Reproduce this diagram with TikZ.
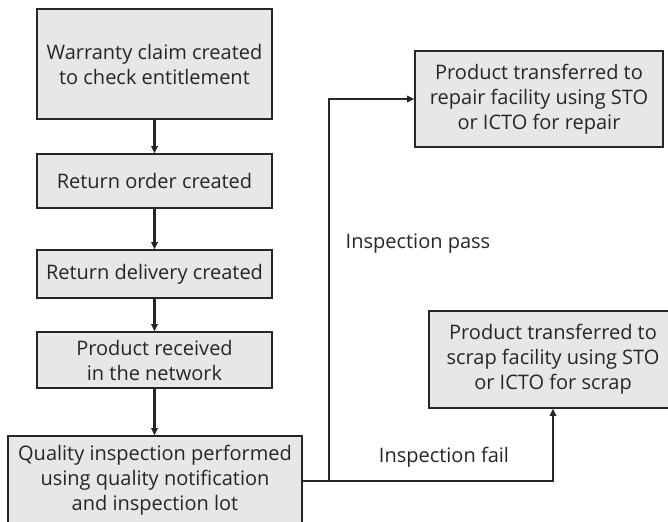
\documentclass[tikz,border=0pt]{standalone}
\usepackage{fontspec}
\setmainfont{Open Sans}
\usetikzlibrary{arrows.meta}
\definecolor{boxgray}{HTML}{E6E7E8}
\definecolor{linegray}{HTML}{262626}
\definecolor{textgray}{HTML}{262626}
\begin{document}
\begin{tikzpicture}[x=0.5pt,y=-0.5pt,
  box/.style={draw=linegray, fill=boxgray, line width=0.7pt, inner sep=0pt,
    align=center, font=\fontsize{10}{12.5}\selectfont, text=textgray},
  flow/.style={draw=linegray, line width=1.15pt, -{Triangle[length=3.6pt,width=3.2pt]}},
  lbl/.style={font=\fontsize{10}{12.5}\selectfont, text=textgray}]
\useasboundingbox (0,0) rectangle (668,521);

% main process chain
\node[box, minimum width=117.5pt, minimum height=55pt] (claim) at (154.5,64)
  {Warranty claim created\\to check entitlement};
\node[box, minimum width=117.5pt, minimum height=27pt] (order) at (154.5,181)
  {Return order created};
\node[box, minimum width=117.5pt, minimum height=24pt] (delivery) at (154.5,274)
  {Return delivery created};
\node[box, minimum width=117.5pt, minimum height=28pt] (received) at (154.5,360)
  {Product received\\in the network};
\node[box, minimum width=147pt, minimum height=44pt] (quality) at (155,480)
  {Quality inspection performed\\using quality notification\\and inspection lot};

% outcome boxes
\node[box, minimum width=124pt, minimum height=48pt] (repair) at (539,99)
  {Product transferred to\\repair facility using STO\\or ICTO for repair};
\node[box, minimum width=124pt, minimum height=48.5pt] (scrap) at (553,359.5)
  {Product transferred to\\scrap facility using STO\\or ICTO for scrap};

% branch labels
\node[lbl] (pass) at (418,244) {Inspection pass};
\node[lbl] (fail) at (444,457) {Inspection fail};

% connectors
\draw[flow] (claim) -- (order);
\draw[flow] (order) -- (delivery);
\draw[flow] (delivery) -- (received);
\draw[flow] (received.south) -- (received.south |- quality.north);

\coordinate (split) at (329,481);
\draw[draw=linegray, line width=1.15pt] (quality.east |- split) -- (split);
\draw[flow] (split) |- (repair.west);
\draw[flow] (split) -| (scrap.south);
\end{tikzpicture}
\end{document}
